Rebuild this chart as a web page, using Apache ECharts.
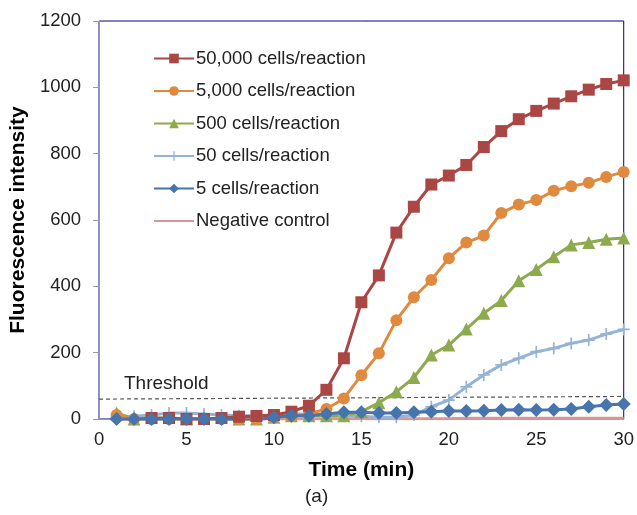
<!DOCTYPE html>
<html>
<head>
<meta charset="utf-8">
<script src="https://cdn.jsdelivr.net/npm/echarts@6/dist/echarts.min.js"></script>
<style>
  html, body { margin: 0; padding: 0; background: #fff; }
  #main { width: 637px; height: 515px; }
</style>
</head>
<body>
<div id="main"></div>
<script>
// time points (min)
var times = [1, 2, 3, 4, 5, 6, 7, 8, 9, 10, 11, 12, 13, 14, 15, 16, 17, 18, 19, 20, 21, 22, 23, 24, 25, 26, 27, 28, 29, 30];

var seriesNames = ["50,000 cells/reaction", "5,000 cells/reaction", "500 cells/reaction", "50 cells/reaction", "5 cells/reaction", "Negative control"];

var cells50000 = [-8, -2, 3, 3, 0, 0, 3, 7, 9, 12, 22, 40, 88, 183, 352, 433, 562, 640, 707, 734, 766, 820, 868, 904, 929, 951, 973, 993, 1010, 1021];
var cells5000 = [12, 0, 0, 0, 0, 0, 0, 0, 0, 5, 8, 15, 30, 62, 132, 198, 298, 367, 419, 485, 532, 553, 621, 647, 660, 688, 702, 712, 730, 745];
var cells500 = [18, 0, -3, -3, 0, -3, -3, 0, 0, 5, 10, 10, 10, 10, 22, 49, 82, 125, 193, 223, 271, 319, 357, 417, 451, 489, 525, 532, 542, 546];
var cells50 = [5, 8, 12, 18, 18, 15, 12, 10, 10, 12, 15, 15, 12, 10, 8, 5, 5, 12, 37, 57, 97, 133, 163, 183, 203, 213, 228, 238, 256, 270];
var cells5 = [0, 0, 0, 0, 0, 0, 0, -3, -3, 5, 10, 10, 15, 20, 20, 18, 18, 20, 22, 24, 24, 25, 27, 28, 27, 28, 30, 37, 42, 45];
var negative = [0, 0, 0, 0, 0, 0, 0, 0, 0, 0, 0, 0, 1, 1, 1, 1, 1, 1, 1, 1, 2, 2, 2, 2, 2, 2, 2, 2, 2, 2];

// threshold line end points
var thresholdX = [0, 30];
var thresholdY = [60, 68];

function pairs(xs, ys) {
  return xs.map(function (x, i) { return [x, ys[i]]; });
}

var plusPath = "path://M4.3,0h1.4v10h-1.4z M0,4.3h10v1.4h-10z";
var FONT = "Liberation Sans, Arial, sans-serif";

function lineSeries(name, values, color, symbol, size) {
  return {
    name: name,
    type: "line",
    data: pairs(times, values),
    symbol: symbol,
    symbolSize: size,
    showSymbol: symbol !== "none",
    lineStyle: { color: color, width: 3 },
    itemStyle: { color: color },
    emphasis: { disabled: true },
    z: 3
  };
}

var legendData = seriesNames.map(function (n) {
  // negative control has no marker, only the line
  return n === "Negative control" ? { name: n, itemStyle: { opacity: 0 } } : { name: n };
});

var chart = echarts.init(document.getElementById("main"));

var option = {
  animation: false,
  textStyle: { fontFamily: FONT },
  grid: {
    left: 99, right: 12, top: 21, bottom: 96,
    show: true, borderColor: "#000080", borderWidth: 1
  },
  legend: {
    data: legendData,
    orient: "vertical",
    left: 148,
    top: 44,
    itemGap: 13.5,
    itemWidth: 40,
    itemHeight: 12,
    textStyle: { fontSize: 18.5, color: "#222", padding: [0, 0, 0, -3] }
  },
  xAxis: {
    type: "value",
    min: 0, max: 30, interval: 5,
    name: "Time (min)",
    nameLocation: "middle",
    nameGap: 41,
    nameTextStyle: { fontSize: 21, fontWeight: "bold", color: "#000" },
    axisLine: { lineStyle: { color: "#999", width: 1 } },
    axisTick: { show: false },
    axisLabel: { fontSize: 18.5, color: "#222", margin: 11 },
    splitLine: { show: false }
  },
  yAxis: {
    type: "value",
    min: 0, max: 1200, interval: 200,
    name: "Fluorescence intensity",
    nameLocation: "middle",
    nameGap: 65,
    nameTextStyle: { fontSize: 21, fontWeight: "bold", color: "#000" },
    axisLine: { show: true, lineStyle: { color: "#999", width: 1 } },
    axisTick: { show: true, inside: false, length: 6, lineStyle: { color: "#999" } },
    axisLabel: { fontSize: 18.5, color: "#222", margin: 18, formatter: function (v) { return String(v); } },
    splitLine: { show: false }
  },
  graphic: [
    { type: "text", left: 124, top: 374, style: { text: "Threshold", fontSize: 19, fill: "#222", fontFamily: FONT } },
    { type: "text", left: 305, top: 487, style: { text: "(a)", fontSize: 19, fill: "#222", fontFamily: FONT } }
  ],
  series: [
    {
      name: "Threshold",
      type: "line",
      data: pairs(thresholdX, thresholdY),
      symbol: "none",
      lineStyle: { color: "#555", width: 1.2, type: [4, 3] },
      emphasis: { disabled: true },
      z: 1
    },
    lineSeries(seriesNames[5], negative, "#D99694", "none", 0),
    lineSeries(seriesNames[3], cells50, "#95B3D7", plusPath, 12),
    lineSeries(seriesNames[2], cells500, "#8DAA4E", "triangle", 13),
    lineSeries(seriesNames[1], cells5000, "#DF8A3E", "circle", 12),
    lineSeries(seriesNames[0], cells50000, "#AA4643", "rect", 12),
    lineSeries(seriesNames[4], cells5, "#4674AC", "diamond", 14)
  ]
};

chart.setOption(option);
</script>
</body>
</html>
